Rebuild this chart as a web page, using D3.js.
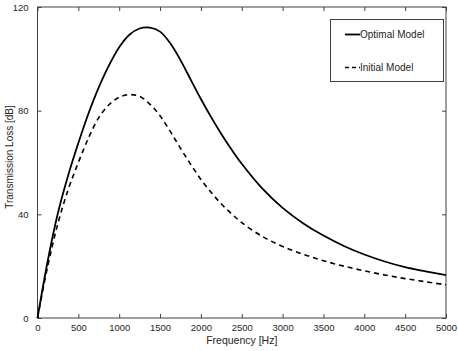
<!DOCTYPE html>
<html><head><meta charset="utf-8">
<script src="https://cdn.jsdelivr.net/npm/d3@7"></script>
<style>body{margin:0;background:#fff}svg{display:block}text{font-family:"Liberation Sans",Arial,sans-serif}</style>
</head><body><svg id="c" width="458" height="351"></svg>
<script>
const freqs = [0,125,250,375,500,625,750,875,1000,1125,1250,1375,1500,1625,1750,1875,2000,2125,2250,2375,2500,2750,3000,3250,3500,3750,4000,4250,4500,4750,5000];
const optimal = [0,22,40.5,55,67.5,79,89,97.5,104.5,109.3,111.7,112,110.5,106,99.5,92,84.5,77.5,71,65,59.5,50,42.5,36.6,31.8,27.8,24.5,21.8,19.6,18,16.5];
const initial = [0,20,36.5,49.5,60,69.5,77.3,82.3,85.2,86.2,85.5,82.5,78,72,65.5,59.3,53.5,48.5,44,40.2,36.8,31.5,27.6,24.6,22.1,20,18.2,16.6,15.2,14,12.8];
const xTicks = [0,500,1000,1500,2000,2500,3000,3500,4000,4500,5000];
const yTicks = [0,40,80,120];
const seriesNames = ["Optimal Model","Initial Model"];

const svg = d3.select("#c");
const L=37.5,R=446,T=7,B=318;
const x = d3.scaleLinear().domain([0,5000]).range([L,R]);
const y = d3.scaleLinear().domain([0,120]).range([B,T]);
const axCol="#404040", txtCol="#262626";

function styleAxis(g){
  g.select(".domain").remove();
  g.selectAll(".tick line").attr("stroke",axCol);
  g.selectAll(".tick text").attr("fill",txtCol).attr("font-size",9.5);
}
svg.append("g").attr("transform",`translate(0,${B})`)
  .call(d3.axisBottom(x).tickValues(xTicks).tickSizeInner(-4).tickSizeOuter(0).tickPadding(6).tickFormat(d3.format("d"))).call(styleAxis);
svg.append("g").attr("transform",`translate(0,${T})`)
  .call(d3.axisTop(x).tickValues(xTicks).tickSizeInner(-4).tickSizeOuter(0).tickFormat("")).call(styleAxis);
svg.append("g").attr("transform",`translate(${L},0)`)
  .call(d3.axisLeft(y).tickValues(yTicks).tickSizeInner(-4).tickSizeOuter(0).tickPadding(9)).call(styleAxis);
svg.append("g").attr("transform",`translate(${R},0)`)
  .call(d3.axisRight(y).tickValues(yTicks).tickSizeInner(-4).tickSizeOuter(0).tickFormat("")).call(styleAxis);
svg.append("rect").attr("x",L).attr("y",T).attr("width",R-L).attr("height",B-T)
  .attr("fill","none").attr("stroke",axCol).attr("stroke-width",1);

const line = d3.line().x(d=>x(d[0])).y(d=>y(d[1])).curve(d3.curveCatmullRom.alpha(0.5));
svg.append("path").datum(freqs.map((f,i)=>[f,optimal[i]])).attr("d",line)
  .attr("fill","none").attr("stroke","#000").attr("stroke-width",1.8);
svg.append("path").datum(freqs.map((f,i)=>[f,initial[i]])).attr("d",line)
  .attr("fill","none").attr("stroke","#000").attr("stroke-width",1.6).attr("stroke-dasharray","5,4");

svg.append("text").attr("x",(L+R)/2).attr("y",344).attr("text-anchor","middle")
  .attr("font-size",10.5).attr("fill",txtCol).text("Frequency [Hz]");
svg.append("text").attr("transform",`translate(13,157) rotate(-90)`).attr("text-anchor","middle")
  .attr("font-size",10).attr("fill",txtCol).text("Transmission Loss [dB]");

const lg = svg.append("g");
lg.append("rect").attr("x",330.5).attr("y",19.5).attr("width",113).attr("height",62)
  .attr("fill","#fff").attr("stroke",axCol);
seriesNames.forEach((n,i)=>{
  const yy = 34.5 + i*33;
  lg.append("line").attr("x1",345).attr("x2",360).attr("y1",yy).attr("y2",yy)
    .attr("stroke","#000").attr("stroke-width",i?1.6:1.8).attr("stroke-dasharray",i?"4,3":null);
  lg.append("text").attr("x",360).attr("y",yy+3.5).attr("font-size",10).attr("fill",txtCol).text(n);
});
</script></body></html>
